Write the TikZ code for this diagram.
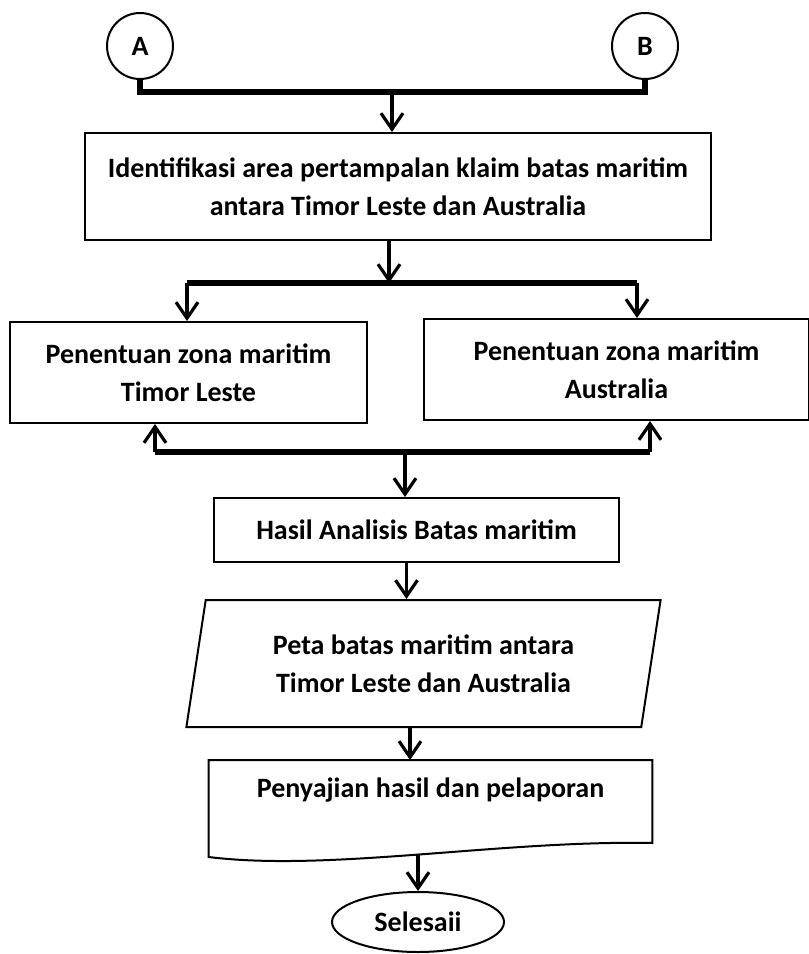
\documentclass[tikz,border=0pt]{standalone}
\usepackage{fontspec}
\setmainfont{Carlito}
\usetikzlibrary{arrows.meta,shapes.geometric}
\begin{document}
\begin{tikzpicture}[x=0.5pt,y=-0.5pt]%[every node=[box]]
			\tikzstyle{every node}=[font=\bfseries\fontsize{14}{19}\selectfont,align=center]
			\tikzstyle{box}=[rectangle,draw,line width=1pt,inner sep=0pt]
			\tikzstyle{conn}=[circle,draw,line width=1pt,minimum size=33pt,inner sep=0pt]
			\tikzstyle{bus}=[line width=3pt]
			\tikzstyle{arr}=[line width=1.6pt,-{Straight Barb[length=8pt,width=11pt]}]
			\useasboundingbox (0,0) rectangle (809,954);
			\node[conn] (A) at (140,46) {A};
			\node[conn] (B) at (645,46) {B};
			\node[box,minimum width=313pt,minimum height=53.5pt] (ident) at (398,186.5)
				{Identifikasi area pertampalan klaim batas maritim\\antara Timor Leste dan Australia};
			\node[box,minimum width=178.5pt,minimum height=50.5pt] (zonatl) at (188.5,372.5)
				{Penentuan zona maritim\\Timor Leste};
			\node[box,minimum width=192.5pt,minimum height=50.5pt] (zonaau) at (616.5,369.5)
				{Penentuan zona maritim\\Australia};
			\node[box,minimum width=202.5pt,minimum height=32pt] (hasil) at (416.5,530)
				{Hasil Analisis Batas maritim};
			\node[box,trapezium,trapezium left angle=77,trapezium right angle=103,trapezium stretches=true,
				minimum width=237.5pt,minimum height=63.5pt] (peta) at (423.5,663.5)
				{Peta batas maritim antara\\Timor Leste dan Australia};
			\node[minimum width=221.5pt,minimum height=30pt,anchor=north] (lapor) at (430.5,760)
				{Penyajian hasil dan pelaporan};
			\draw[line width=1pt] (lapor.north west) -- (lapor.north east) -- ++(0,83)
				.. controls ++(-152,-3) and ++(121,15) .. ([yshift=-48.5pt]lapor.north west) -- cycle;
			\coordinate (laporbawah) at (418,855);
			\node[ellipse,draw,line width=1pt,minimum width=86pt,minimum height=30pt,inner sep=0pt] (selesai) at (418,922)
				{Selesaii};
			% percabangan
			\coordinate (j1) at (392,92);
			\coordinate (j2) at (389,283);
			\coordinate (s1) at (187,283);
			\coordinate (s2) at (637,283);
			\coordinate (m1) at (155,452);
			\coordinate (m2) at (650,452);
			\coordinate (j3) at (405,452);
			\draw[bus] (A.south) -- (A.south |- j1) -- (B.south |- j1) -- (B.south);
			\draw[arr] (j1) -- (j1 |- ident.north);
			\draw[arr] (j2 |- ident.south) -- (j2);
			\draw[bus] (s1) -- (s2);
			\draw[arr] (s1) -- (s1 |- zonatl.north);
			\draw[arr] (s2) -- (s2 |- zonaau.north);
			\draw[bus] (m1) -- (m2);
			\draw[arr] (m1) -- (m1 |- zonatl.south);
			\draw[arr] (m2) -- (m2 |- zonaau.south);
			\draw[arr] (j3) -- (j3 |- hasil.north);
			\draw[arr] ([xshift=-5pt]hasil.south) -- ([xshift=-5pt]hasil.south |- peta.north);
			\draw[arr] ([xshift=-6.75pt]peta.south) -- ([xshift=-6.75pt]peta.south |- lapor.north);
			\draw[arr] (laporbawah) -- (selesai.north);
			\end{tikzpicture}
\end{document}
